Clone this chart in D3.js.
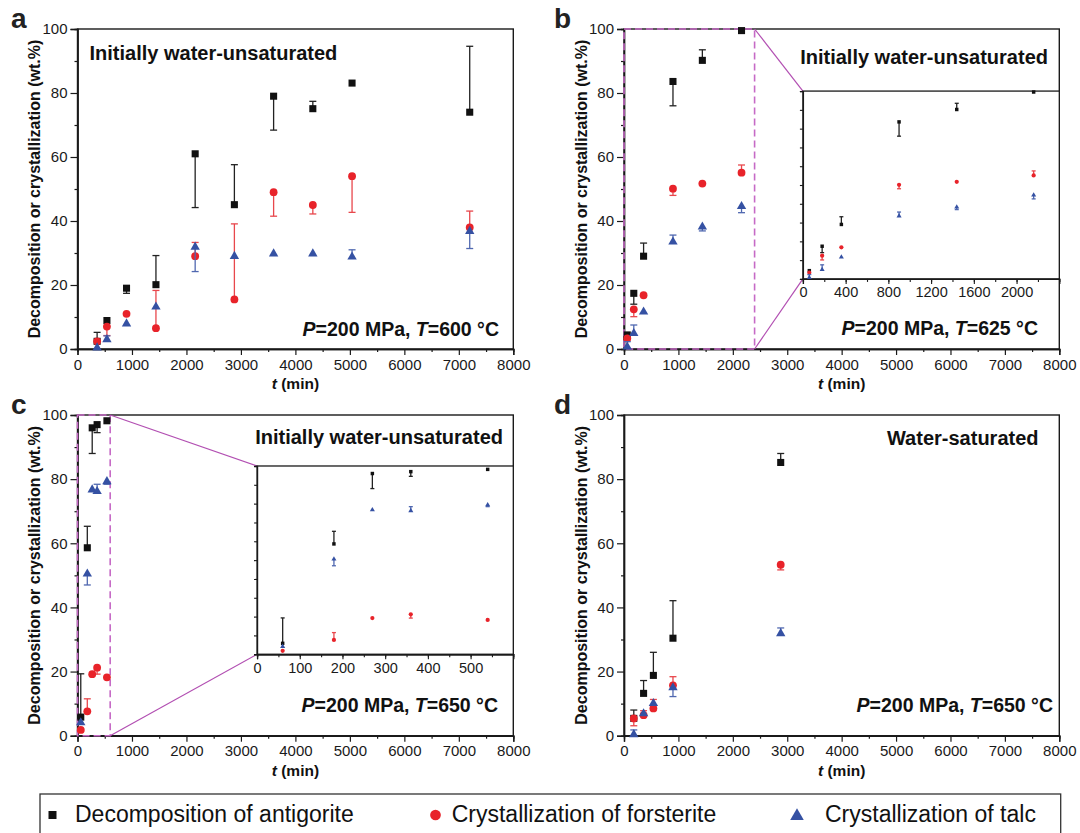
<!DOCTYPE html>
<html>
<head>
<meta charset="utf-8">
<script src="https://cdn.jsdelivr.net/npm/d3@7"></script>
<style>
  body { margin: 0; background: #fff; }
  svg, svg text { font-family: "Liberation Sans", Arial, sans-serif; }
  .axis text { fill: #1a1a1a; }
  .axis path, .axis line { stroke: #1a1a1a; }
</style>
</head>
<body>
<div id="chart"></div>
<script>
// ---- data, errors: + = bar upward, - = bar downward, 0 = none ----
const seriesNames = ['Decomposition of antigorite', 'Crystallization of forsterite', 'Crystallization of talc'];

// panel a, 600 °C
const aTime = [360, 540, 900, 1440, 2160, 2880, 3600, 4320, 5040, 7200];
const aAnt = [2.4, 8.9, 19.0, 20.1, 61.0, 45.1, 79.0, 75.1, 83.1, 74.0];
const aAntErr = [2.8, 0, -1.6, 9.1, -16.8, 12.5, -10.6, 2.3, 0, 20.6];
const aFo = [2.4, 7.0, 11.0, 6.5, 29.0, 15.5, 49.0, 45.0, 54.0, 38.0];
const aFoErr = [0, -2.8, 0, 11.8, 4.3, 23.6, -7.5, -2.8, -11.3, 5.1];
const aTlc = [0.7, 3.3, 8.2, 13.5, 32.2, 29.3, 30.1, 30.1, 29.1, 37.1];
const aTlcErr = [0, 0.8, 0, 0, -8.0, 0, 0, 0, 1.9, -5.7];

// panel b, 625 °C
const bTime = [60, 180, 360, 900, 1440, 2160];
const bAnt = [4.4, 17.4, 29.0, 83.6, 90.2, 99.5];
const bAntErr = [0, -3.4, 4.1, -7.6, 3.3, 0];
const bFo = [3.3, 12.4, 16.8, 50.1, 51.7, 55.1];
const bFoErr = [0, -2.3, 0, -2.1, 0, 2.4];
const bTlc = [1.0, 5.2, 11.9, 33.8, 38.5, 44.9];
const bTlcErr = [1.3, 2.3, 0, 1.8, -1.6, -2.3];

// panel c, 650 °C
const cTime = [60, 180, 270, 360, 540];
const cAnt = [5.8, 58.6, 96.0, 97.0, 98.2];
const cAntErr = [13.5, 6.7, -8.0, -2.5, 0];
const cFo = [1.8, 7.6, 19.2, 21.2, 18.2];
const cFoErr = [0, 3.9, 0, -2.0, 0];
const cTlc = [4.4, 50.8, 77.0, 76.5, 79.6];
const cTlcErr = [0, -3.8, 0, 1.9, -1.2];

// panel d, 650 °C water-saturated
const dTime = [180, 360, 540, 900, 2880];
const dAnt = [5.4, 13.2, 18.8, 30.4, 85.2];
const dAntErr = [2.6, 4.0, 7.2, 11.7, 2.8];
const dFo = [5.4, 6.4, 8.5, 15.7, 53.3];
const dFoErr = [-2.3, 1.4, 2.8, 2.7, -1.6];
const dTlc = [0.7, 7.2, 10.4, 15.3, 32.2];
const dTlcErr = [1.1, 0, 0, -3.1, 1.4];

// axis ticks
const xMajor = [0, 1000, 2000, 3000, 4000, 5000, 6000, 7000, 8000];
const yMajor = [0, 20, 40, 60, 80, 100];
const bInsetLabels = [0, 400, 800, 1200, 1600, 2000];
const cInsetLabels = [0, 100, 200, 300, 400, 500];

// ---- styles ----
const FONT = '"Liberation Sans", Arial, sans-serif';
const colors = ['#111111', '#e8232a', '#3551a3'];
const barColors = ['#222222', '#e8474c', '#5068b0'];
const magenta = '#c66ac6';
const fmt = d3.format('d');

const svg = d3.select('#chart').append('svg')
    .attr('width', 1080)
    .attr('height', 833);

function makeSeries(time, vals, errs, k) {
    return time.map((t, i) => ({ t: t, v: vals[i], e: errs[i], k: k }));
}

function styleAxis(a, size) {
    a.attr('font-family', FONT);
    a.selectAll('text').style('font-size', size + 'px');
}

function drawPoints(g, x, y, series, small) {
    const sq = small ? 12 : 50;
    const ci = small ? 14 : 48;
    const tr = small ? 11 : 38;
    const cap = small ? 2 : 3.5;
    series.forEach(s => {
        s.forEach(d => {
            if (d.e !== 0) {
                const y1 = y(d.v + d.e);
                g.append('line')
                    .attr('x1', x(d.t)).attr('x2', x(d.t))
                    .attr('y1', y(d.v)).attr('y2', y1)
                    .attr('stroke', barColors[d.k]).attr('stroke-width', 1.3);
                g.append('line')
                    .attr('x1', x(d.t) - cap).attr('x2', x(d.t) + cap)
                    .attr('y1', y1).attr('y2', y1)
                    .attr('stroke', barColors[d.k]).attr('stroke-width', 1.3);
            }
        });
        const type = [d3.symbolSquare, d3.symbolCircle, d3.symbolTriangle][s[0].k];
        const size = [sq, ci, tr][s[0].k];
        g.selectAll(null)
            .data(s)
            .enter().append('path')
            .attr('transform', d => `translate(${x(d.t)},${y(d.v) + (d.k === 2 ? (small ? 0.5 : 1) : 0)})`)
            .attr('d', d3.symbol().type(type).size(size))
            .attr('fill', colors[s[0].k]);
    });
}

function drawPanel(p) {
    const W = p.right - p.left, H = p.bottom - p.top;
    const x = d3.scaleLinear().domain([0, 8000]).range([p.left, p.right]);
    const y = d3.scaleLinear().domain([0, 100]).range([p.bottom, p.top]);
    const g = svg.append('g');

    // axes
    g.append('g').attr('class', 'axis')
        .attr('transform', `translate(0,${p.bottom})`)
        .call(d3.axisBottom(x).tickValues(d3.range(500, 8000, 1000)).tickSize(3).tickFormat(''));
    g.append('g').attr('class', 'axis')
        .attr('transform', `translate(0,${p.bottom})`)
        .call(d3.axisBottom(x).tickValues(xMajor).tickSize(6).tickPadding(4).tickFormat(fmt))
        .call(a => styleAxis(a, 15));
    g.append('g').attr('class', 'axis')
        .attr('transform', `translate(${p.left},0)`)
        .call(d3.axisLeft(y).tickValues(d3.range(10, 100, 20)).tickSize(3).tickFormat(''));
    g.append('g').attr('class', 'axis')
        .attr('transform', `translate(${p.left},0)`)
        .call(d3.axisLeft(y).tickValues(yMajor).tickSize(7).tickPadding(3).tickFormat(fmt))
        .call(a => styleAxis(a, 15));
    g.selectAll('.axis path').attr('stroke-width', 1.4);
    g.selectAll('.axis line').attr('stroke-width', 1.2);

    g.append('rect')
        .attr('x', p.left).attr('y', p.top)
        .attr('width', W).attr('height', H)
        .attr('fill', 'none').attr('stroke', '#1a1a1a').attr('stroke-width', 1.4);

    // axis titles
    g.append('text')
        .attr('transform', `translate(${p.left - 43},${p.top + H / 2}) rotate(-90)`)
        .attr('text-anchor', 'middle')
        .attr('dy', '0.35em')
        .style('font-size', '16px').style('font-weight', 'bold').attr('fill', '#111')
        .text('Decomposition or crystallization (wt.%)');
    const xt = g.append('text')
        .attr('x', p.left + W / 2).attr('y', p.bottom + 40)
        .attr('text-anchor', 'middle').attr('fill', '#111')
        .style('font-size', '15.5px').style('font-weight', 'bold');
    xt.append('tspan').style('font-style', 'italic').text('t');
    xt.append('tspan').text(' (min)');

    // panel letter
    g.append('text')
        .attr('x', p.letterX).attr('y', p.top - 1.5)
        .style('font-size', '28px').style('font-weight', 'bold').attr('fill', '#222')
        .text(p.letter);

    // inset zoom box
    let ix, iy, inset;
    if (p.zoom) {
        const z = p.zoom;
        const il = p.left + z.left * W, it = p.top + z.top * H, ib = p.top + z.bottom * H;
        ix = d3.scaleLinear().domain([0, z.max]).range([il, p.right]);
        iy = d3.scaleLinear().domain([0, 100]).range([ib, it]);

        g.append('rect')
            .attr('x', x(0)).attr('y', y(100))
            .attr('width', x(z.max) - x(0)).attr('height', y(0) - y(100))
            .attr('fill', 'none').attr('stroke', magenta)
            .attr('stroke-width', 1.6).attr('stroke-dasharray', '7,4');
        g.append('line')
            .attr('x1', x(z.max)).attr('y1', y(100)).attr('x2', il).attr('y2', it)
            .attr('stroke', '#b24fb2').attr('stroke-width', 1.2);
        g.append('line')
            .attr('x1', x(z.max)).attr('y1', y(0)).attr('x2', il).attr('y2', ib)
            .attr('stroke', '#b24fb2').attr('stroke-width', 1.2);

        inset = g.append('g');
        inset.append('rect')
            .attr('x', il).attr('y', it).attr('width', p.right - il).attr('height', ib - it)
            .attr('fill', '#fff').attr('stroke', '#1a1a1a').attr('stroke-width', 1.3);
        inset.append('g').attr('class', 'axis')
            .attr('transform', `translate(0,${ib})`)
            .call(d3.axisBottom(ix).tickValues(d3.range(0, z.max, z.minor)).tickSize(3).tickFormat(''));
        inset.append('g').attr('class', 'axis')
            .attr('transform', `translate(0,${ib})`)
            .call(d3.axisBottom(ix).tickValues(z.labels).tickSize(5).tickPadding(3).tickFormat(fmt))
            .call(a => styleAxis(a, 14.5));
        inset.append('g').attr('class', 'axis')
            .attr('transform', `translate(${il},0)`)
            .call(d3.axisLeft(iy).tickValues(d3.range(0, 101, 10)).tickSize(3).tickFormat(''));
        inset.selectAll('.axis path').attr('stroke-width', 1.3);
        inset.selectAll('.axis line').attr('stroke-width', 1.1);
    }

    // annotations
    g.append('text')
        .attr('x', p.title.x).attr('y', p.title.y)
        .attr('text-anchor', p.title.anchor)
        .style('font-size', '20px').style('font-weight', 'bold').attr('fill', '#111')
        .text(p.title.text);
    const cond = g.append('text')
        .attr('x', p.cond.x).attr('y', p.cond.y)
        .attr('text-anchor', 'end')
        .style('font-size', '19.5px').style('font-weight', 'bold').attr('fill', '#111');
    cond.append('tspan').style('font-style', 'italic').text('P');
    cond.append('tspan').text('=200 MPa, ');
    cond.append('tspan').style('font-style', 'italic').text('T');
    cond.append('tspan').text(p.cond.text);

    // data
    drawPoints(g, x, y, p.series, false);
    if (p.zoom) drawPoints(inset, ix, iy, p.series, true);
}

drawPanel({
    letter: 'a', letterX: 11,
    left: 77.5, right: 513.3, top: 29, bottom: 349,
    title: { text: 'Initially water-unsaturated', x: 89.5, y: 60, anchor: 'start' },
    cond: { text: '=600 °C', x: 499, y: 336 },
    series: [makeSeries(aTime, aAnt, aAntErr, 0), makeSeries(aTime, aFo, aFoErr, 1), makeSeries(aTime, aTlc, aTlcErr, 2)]
});

drawPanel({
    letter: 'b', letterX: 554,
    left: 624, right: 1059.3, top: 29, bottom: 349,
    title: { text: 'Initially water-unsaturated', x: 1048, y: 64, anchor: 'end' },
    cond: { text: '=625 °C', x: 1038, y: 334.5 },
    zoom: { max: 2400, left: 0.411, top: 0.194, bottom: 0.781, minor: 200, labels: bInsetLabels },
    series: [makeSeries(bTime, bAnt, bAntErr, 0), makeSeries(bTime, bFo, bFoErr, 1), makeSeries(bTime, bTlc, bTlcErr, 2)]
});

drawPanel({
    letter: 'c', letterX: 11,
    left: 77.5, right: 513.3, top: 415, bottom: 735.7,
    title: { text: 'Initially water-unsaturated', x: 503, y: 444, anchor: 'end' },
    cond: { text: '=650 °C', x: 498, y: 711.5 },
    zoom: { max: 600, left: 0.412, top: 0.159, bottom: 0.746, minor: 50, labels: cInsetLabels },
    series: [makeSeries(cTime, cAnt, cAntErr, 0), makeSeries(cTime, cFo, cFoErr, 1), makeSeries(cTime, cTlc, cTlcErr, 2)]
});

drawPanel({
    letter: 'd', letterX: 554,
    left: 624, right: 1059.3, top: 415, bottom: 735.7,
    title: { text: 'Water-saturated', x: 1038.5, y: 445, anchor: 'end' },
    cond: { text: '=650 °C', x: 1053, y: 711.5 },
    series: [makeSeries(dTime, dAnt, dAntErr, 0), makeSeries(dTime, dFo, dFoErr, 1), makeSeries(dTime, dTlc, dTlcErr, 2)]
});

// legend
const legend = svg.append('g');
legend.append('rect')
    .attr('x', 40).attr('y', 794)
    .attr('width', 1020.7).attr('height', 60)
    .attr('fill', 'none').attr('stroke', '#333').attr('stroke-width', 1.3);
const legendX = [52.5, 435.5, 797];
const legendTextX = [75, 451.7, 825];
const legendSym = [d3.symbolSquare, d3.symbolCircle, d3.symbolTriangle];
const legendSize = [64, 90, 80];
seriesNames.forEach((name, i) => {
    legend.append('path')
        .attr('transform', `translate(${legendX[i]},${815 + (i === 2 ? 1 : 0)})`)
        .attr('d', d3.symbol().type(legendSym[i]).size(legendSize[i]))
        .attr('fill', colors[i]);
    legend.append('text')
        .attr('x', legendTextX[i]).attr('y', 822)
        .style('font-size', '23px').attr('fill', '#111')
        .text(name);
});
</script>
</body>
</html>
